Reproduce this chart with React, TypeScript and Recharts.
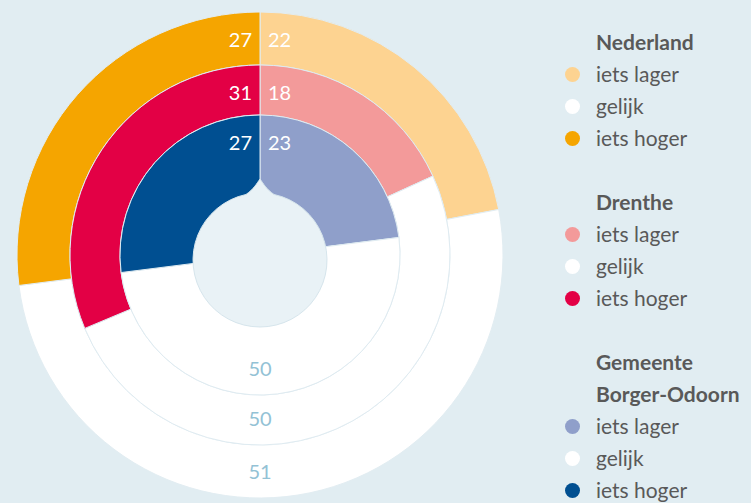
import React from "react";
import { PieChart, Pie, Cell, Legend } from "recharts";

const categories = ["iets lager", "gelijk", "iets hoger"];
const nederland = [22, 51, 27];
const drenthe = [18, 50, 31];
const borgerOdoorn = [23, 50, 27];

const nlColors = ["#fdd391", "#ffffff", "#f5a500"];
const drColors = ["#f39a9a", "#ffffff", "#e30045"];
const boColors = ["#8f9fca", "#ffffff", "#004f91"];

const legendGroups = [
  { title: ["Nederland"], colors: nlColors },
  { title: ["Drenthe"], colors: drColors },
  { title: ["Gemeente", "Borger-Odoorn"], colors: boColors },
];

const toData = (vals: number[]) =>
  vals.map((v, i) => ({ name: categories[i], value: v }));

const FONT = "Lato, 'Open Sans', sans-serif";

const renderLabel = (props: any) => {
  const { cx, cy, outerRadius, index, value } = props;
  const r = outerRadius - 27;
  if (index === 1) {
    return (
      <text
        x={cx}
        y={cy + r}
        textAnchor="middle"
        dominantBaseline="central"
        fill="#93c2d5"
        fontSize={20}
        fontFamily={FONT}
      >
        {value}
      </text>
    );
  }
  const left = index === 2;
  return (
    <text
      x={left ? cx - 8 : cx + 8}
      y={cy - r}
      textAnchor={left ? "end" : "start"}
      dominantBaseline="central"
      fill="#ffffff"
      fontSize={20}
      fontFamily={FONT}
    >
      {value}
    </text>
  );
};

const renderHole = (props: any) => {
  const { cx, cy, outerRadius } = props;
  const R = outerRadius;
  const dx = 14;
  const dy = Math.sqrt(R * R - dx * dx);
  const d = [
    `M ${cx} ${cy - R - 14}`,
    `C ${cx + 3} ${cy - R - 10} ${cx + 6} ${cy - R - 4} ${cx + dx} ${cy - dy}`,
    `A ${R} ${R} 0 1 1 ${cx - dx} ${cy - dy}`,
    `C ${cx - 6} ${cy - R - 4} ${cx - 3} ${cy - R - 10} ${cx} ${cy - R - 14}`,
    "Z",
  ].join(" ");
  return <path d={d} fill="#e9f2f6" stroke="#d6e5ec" strokeWidth={1} strokeLinejoin="miter" />;
};

const LegendContent = () => (
  <div
    style={{
      fontFamily: FONT,
      fontSize: 21,
      color: "#595959",
      lineHeight: "32px",
      whiteSpace: "nowrap",
    }}
  >
    {legendGroups.map((g, gi) => (
      <div key={gi} style={{ marginBottom: gi < legendGroups.length - 1 ? 32 : 0 }}>
        {g.title.map((t, ti) => (
          <div key={ti} style={{ paddingLeft: 36, fontWeight: 700, height: 32 }}>
            {t}
          </div>
        ))}
        {categories.map((c, ci) => (
          <div key={ci} style={{ display: "flex", alignItems: "center", height: 32 }}>
            <span
              style={{
                display: "inline-block",
                width: 15,
                height: 15,
                borderRadius: "50%",
                background: g.colors[ci],
                marginLeft: 5,
                marginRight: 16,
              }}
            />
            <span>{c}</span>
          </div>
        ))}
      </div>
    ))}
  </div>
);

export default function App() {
  return (
    <div
      style={{
        position: "absolute",
        left: 0,
        top: 0,
        width: 751,
        height: 503,
        background: "#e1edf2",
        overflow: "hidden",
      }}
    >
      <PieChart width={751} height={503} margin={{ top: 0, right: 0, bottom: 0, left: 0 }}>
        <Pie
          data={toData(nederland)}
          dataKey="value"
          cx={260}
          cy={255}
          innerRadius={190}
          outerRadius={243}
          startAngle={90}
          endAngle={-270}
          stroke="#e2edf2"
          strokeWidth={1}
          label={renderLabel}
          labelLine={false}
          isAnimationActive={false}
        >
          {nlColors.map((c, i) => (
            <Cell key={i} fill={c} />
          ))}
        </Pie>
        <Pie
          data={toData(drenthe)}
          dataKey="value"
          cx={260}
          cy={255}
          innerRadius={140}
          outerRadius={190}
          startAngle={90}
          endAngle={-270}
          stroke="#dfebf1"
          strokeWidth={1}
          label={renderLabel}
          labelLine={false}
          isAnimationActive={false}
        >
          {drColors.map((c, i) => (
            <Cell key={i} fill={c} />
          ))}
        </Pie>
        <Pie
          data={toData(borgerOdoorn)}
          dataKey="value"
          cx={260}
          cy={255}
          innerRadius={55}
          outerRadius={140}
          startAngle={90}
          endAngle={-270}
          stroke="#dfebf1"
          strokeWidth={1}
          label={renderLabel}
          labelLine={false}
          isAnimationActive={false}
        >
          {boColors.map((c, i) => (
            <Cell key={i} fill={c} />
          ))}
        </Pie>
        <Pie
          data={[{ name: "hole", value: 1 }]}
          dataKey="value"
          cx={260}
          cy={260}
          innerRadius={0}
          outerRadius={67}
          fill="none"
          stroke="none"
          label={renderHole}
          labelLine={false}
          isAnimationActive={false}
          legendType="none"
        />
        <Legend
          content={<LegendContent />}
          wrapperStyle={{ position: "absolute", left: 560, top: 26, width: 191, height: "auto" }}
        />
      </PieChart>
    </div>
  );
}
